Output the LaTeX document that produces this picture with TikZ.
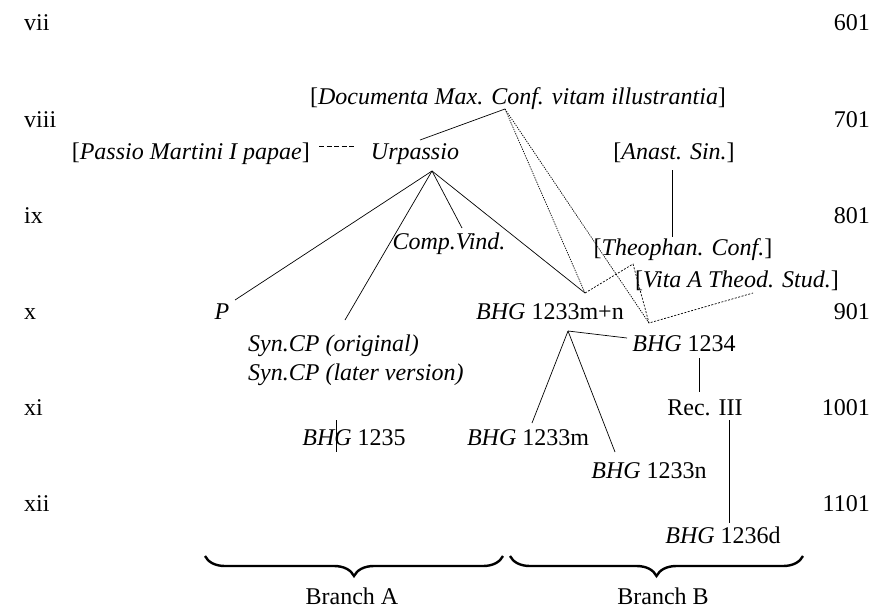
\documentclass[tikz,border=0pt]{standalone}
\usepackage{fontspec}
\setmainfont{Liberation Serif}
\usetikzlibrary{decorations.pathreplacing}
\begin{document}
\begin{tikzpicture}[x=1pt, y=-1pt, font=\fontsize{24}{28}\selectfont,
    lbl/.style={inner sep=0pt, anchor=base},
    lblw/.style={inner sep=0pt, anchor=base west},
    lble/.style={inner sep=0pt, anchor=base east},
    link/.style={line width=0.7pt},
    dotlink/.style={line width=0.7pt, dash pattern=on 1.3pt off 1.1pt},
    dashlink/.style={line width=0.7pt, dash pattern=on 2pt off 1.5pt},
    brc/.style={decorate, decoration={brace, mirror, amplitude=20pt}, line width=2.4pt}]
  \useasboundingbox (0,0) rectangle (872,610);

  % Centuries
  \foreach \r/\c/\y in {vii/601/31, viii/701/127, ix/801/223, x/901/319, xi/1001/415, xii/1101/511} {
    \node[lblw] (c-\r) at (24,\y) {\r};
    \node[lble] (y-\c) at (870,\y) {\c};
  }

  % Witnesses
  \node[lbl] (doc) at (518,104) {[\textit{Documenta Max. Conf. vitam illustrantia}]};
  \node[lble] (passio) at (310,159) {[\textit{Passio Martini I papae}]};
  \node[lbl] (urp) at (415,159) {\textit{Urpassio}};
  \node[lbl] (anast) at (674,159) {[\textit{Anast. Sin.}]};
  \node[lbl] (comp) at (449,249) {\textit{Comp.Vind.}};
  \node[lbl] (theo) at (683,255) {[\textit{Theophan. Conf.}]};
  \node[lbl] (vita) at (737,287) {[\textit{Vita A Theod. Stud.}]};
  \node[lbl] (p) at (222,319) {\textit{P}};
  \node[lblw] (synorig) at (248,351) {\textit{Syn.CP (original)}};
  \node[lblw] (synlater) at (248,380) {\textit{Syn.CP (later version)}};
  \node[lbl] (bmn) at (550,319) {\textit{BHG} 1233m+n};
  \node[lbl] (b1234) at (684,351) {\textit{BHG} 1234};
  \node[lbl] (rec) at (705,415) {Rec. III};
  \node[lbl] (b1235) at (354,445) {\textit{BHG} 1235};
  \node[lbl] (b1233m) at (528,445) {\textit{BHG} 1233m};
  \node[lbl] (b1233n) at (649,478) {\textit{BHG} 1233n};
  \node[lbl] (b1236d) at (723,543) {\textit{BHG} 1236d};
  \node[lbl] (bra) at (352,604) {Branch A};
  \node[lbl] (brb) at (663,604) {Branch B};

  % Points
  \coordinate (docj) at (505,109);
  \coordinate (urtop) at (420,140);
  \coordinate (urbot) at (432,171);
  \coordinate (pend) at (235,300);
  \coordinate (synend) at (345,320);
  \coordinate (compend) at (462,228);
  \coordinate (mnj) at (585,293);
  \coordinate (mnb) at (568,331);
  \coordinate (mend) at (532,423);
  \coordinate (nend) at (615,452);
  \coordinate (j34) at (649,323);
  \coordinate (b34w) at (627,338);
  \coordinate (b34b) at (699,358);
  \coordinate (rect) at (699,392);
  \coordinate (recb) at (729,420);
  \coordinate (b36t) at (729,523);
  \coordinate (theoj) at (633,264);
  \coordinate (vitaj) at (753,293);
  \coordinate (anb) at (672,170);
  \coordinate (ant) at (672,237);
  \coordinate (bart) at (336,420);
  \coordinate (barb) at (336,452);

  % Lines
  \draw[link] (docj) -- (urtop);
  \draw[link, dash pattern=on 5pt off 2.5pt] (passio.east |- urp) ++(9,-7) -- ++(37,0);
  \draw[link] (urbot) -- (pend);
  \draw[link] (urbot) -- (synend);
  \draw[link] (urbot) -- (compend);
  \draw[link] (urbot) -- (mnj);
  \draw[dotlink] (docj) -- (mnj);
  \draw[dotlink] (docj) -- (j34);
  \draw[dashlink] (mnj) -- (theoj) -- (j34) -- (vitaj);
  \draw[link] (anb) -- (ant);
  \draw[link] (mnb) -- (b34w);
  \draw[link] (mnb) -- (mend);
  \draw[link] (mnb) -- (nend);
  \draw[link] (b34b) -- (rect);
  \draw[link] (recb) -- (b36t);
  \draw[link] (bart) -- (barb);

  % Braces
  \draw[brc] (205,556) -- (503,556);
  \draw[brc] (510,556) -- (803,556);
\end{tikzpicture}
\end{document}
